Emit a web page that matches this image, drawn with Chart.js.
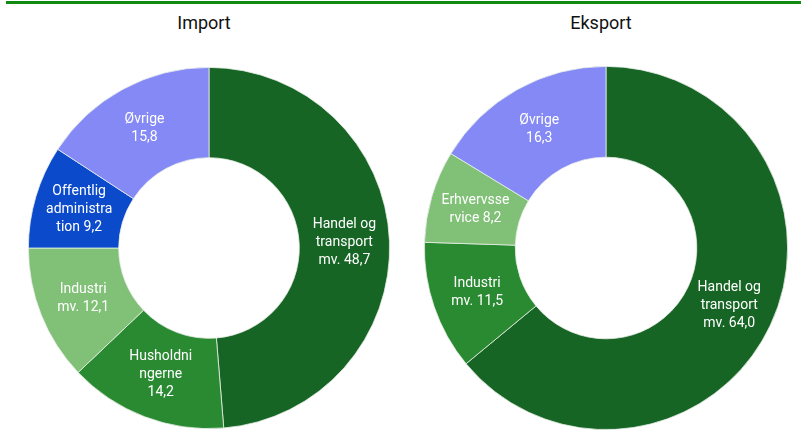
<!DOCTYPE html>
<html>
<head>
<meta charset="utf-8">
<script src="https://cdn.jsdelivr.net/npm/chart.js@4/dist/chart.umd.min.js"></script>
<style>
  body { margin: 0; background: #ffffff; width: 803px; height: 432px; position: relative; overflow: hidden; font-family: Roboto, sans-serif; }
  .topline { position: absolute; left: 6px; top: 1px; width: 795px; height: 3px; background: #108a10; }
  .title { position: absolute; top: 12px; width: 200px; text-align: center; font-size: 18px; color: #111111; }
  canvas { position: absolute; }
</style>
</head>
<body>
<div class="topline"></div>
<div class="title" style="left:104px">Import</div>
<div class="title" style="left:501px">Eksport</div>
<canvas id="importChart" width="362" height="362" style="left:28px; top:67px"></canvas>
<canvas id="eksportChart" width="364" height="364" style="left:424px; top:66px"></canvas>
<script>
// Import shares (per cent), clockwise from 12 o'clock
const importCategories = ['Handel og transport mv.', 'Husholdningerne', 'Industri mv.', 'Offentlig administration', 'Øvrige'];
const importValues = [48.7, 14.2, 12.1, 9.2, 15.8];
const importLabelLines = [['Handel og', 'transport', 'mv. '], ['Husholdni', 'ngerne', ''], ['Industri', 'mv. '], ['Offentlig', 'administra', 'tion '], ['Øvrige', '']];
const importColors = ['#166524', '#2a8a32', '#80c077', '#0b4acb', '#8489f5'];

// Eksport shares (per cent)
const eksportCategories = ['Handel og transport mv.', 'Industri mv.', 'Erhvervsservice', 'Øvrige'];
const eksportValues = [64.0, 11.5, 8.2, 16.3];
const eksportLabelLines = [['Handel og', 'transport', 'mv. '], ['Industri', 'mv. '], ['Erhvervsse', 'rvice '], ['Øvrige', '']];
const eksportColors = ['#166524', '#2a8a32', '#80c077', '#8489f5'];

// Draws the wrapped labels in the middle of each slice
const sliceLabels = {
  id: 'sliceLabels',
  afterDatasetsDraw(chart) {
    const ctx = chart.ctx;
    const lines = chart.options.plugins.sliceLabels.lines;
    const values = chart.data.datasets[0].data;
    ctx.save();
    ctx.font = '14px Roboto, sans-serif';
    ctx.fillStyle = '#ffffff';
    ctx.textAlign = 'center';
    ctx.textBaseline = 'middle';
    chart.getDatasetMeta(0).data.forEach((arc, i) => {
      const pos = arc.tooltipPosition();
      const txt = lines[i].slice();
      txt[txt.length - 1] = txt[txt.length - 1] + values[i].toFixed(1).replace('.', ',');
      const lh = 18;
      const y0 = pos.y - (txt.length - 1) * lh / 2;
      txt.forEach((t, j) => ctx.fillText(t, pos.x, y0 + j * lh));
    });
    ctx.restore();
  }
};

function makeDonut(id, labels, values, colors, lines) {
  const ctx = document.getElementById(id).getContext('2d');
  return new Chart(ctx, {
    type: 'doughnut',
    data: {
      labels: labels,
      datasets: [{
        data: values,
        backgroundColor: colors,
        borderColor: '#e8efe8',
        borderWidth: 0.8
      }]
    },
    options: {
      responsive: false,
      animation: false,
      events: [],
      cutout: '50%',
      layout: { padding: 0 },
      plugins: {
        legend: { display: false },
        tooltip: { enabled: false },
        sliceLabels: { lines: lines }
      }
    },
    plugins: [sliceLabels]
  });
}

makeDonut('importChart', importCategories, importValues, importColors, importLabelLines);
makeDonut('eksportChart', eksportCategories, eksportValues, eksportColors, eksportLabelLines);
</script>
</body>
</html>
